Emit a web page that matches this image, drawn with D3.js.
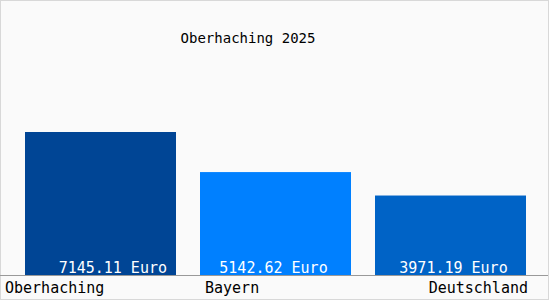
<!DOCTYPE html>
<html>
<head>
<meta charset="utf-8">
<script src="https://cdn.jsdelivr.net/npm/d3@7"></script>
<style>
  body { margin: 0; background: #fff; }
  svg { display: block; font-family: "DejaVu Sans Mono", monospace; }
</style>
</head>
<body>
<div id="chart"></div>
<script>
var w = 550;
var h = 300;

var categories = ['Oberhaching', 'Bayern', 'Deutschland'];
var values = [7145.11, 5142.62, 3971.19];
var unit = 'Euro';
var title = 'Oberhaching 2025';

var colors = ['#004595', '#0080ff', '#0063c6'];
// label placement per category: anchor + offset from bar
var labelPos = [
  {anchor: 'start', side: 'left', dx: -20},
  {anchor: 'start', side: 'left', dx: 5},
  {anchor: 'end', side: 'right', dx: 2}
];
var valuePos = [
  {anchor: 'end', side: 'right', dx: -9},
  {anchor: 'middle', side: 'mid', dx: -2},
  {anchor: 'middle', side: 'mid', dx: 3}
];

var baseY = 275;

var x = d3.scaleBand()
  .domain(categories)
  .range([13, 538])
  .paddingInner(24 / 175)
  .paddingOuter(12 / 175);

var y = d3.scaleLinear()
  .domain([0, d3.max(values)])
  .range([baseY, 132]);

var svg = d3.select('#chart')
  .append('svg')
    .attr('width', w)
    .attr('height', h);

svg.append('rect')
  .attr('x', 0.5).attr('y', 0.5)
  .attr('width', w - 2).attr('height', h - 1)
  .style('fill', '#fafafa')
  .style('stroke', '#d8d8d8');

svg.append('text')
  .attr('x', 248)
  .attr('y', 43)
  .attr('text-anchor', 'middle')
  .style('font-size', '14px')
  .style('fill', '#000')
  .text(title);

var data = categories.map(function(c, i) { return {cat: c, val: values[i], i: i}; });

function sideX(d, p) {
  if (p.side === 'left') return x(d.cat) + p.dx;
  if (p.side === 'right') return x(d.cat) + x.bandwidth() + p.dx;
  return x(d.cat) + x.bandwidth() / 2 + p.dx;
}

var bar = svg.selectAll('.bar')
  .data(data)
  .enter().append('g')
    .attr('class', 'bar');

bar.append('rect')
  .attr('x', function(d) { return x(d.cat); })
  .attr('y', function(d) { return y(d.val); })
  .attr('width', x.bandwidth())
  .attr('height', function(d) { return baseY - y(d.val); })
  .style('fill', function(d) { return colors[d.i]; });

bar.append('text')
  .attr('x', function(d) { return sideX(d, valuePos[d.i]); })
  .attr('y', baseY - 2)
  .attr('text-anchor', function(d) { return valuePos[d.i].anchor; })
  .style('font-size', '15px')
  .style('fill', '#fff')
  .text(function(d) { return d3.format('.2f')(d.val) + ' ' + unit; });

// baseline
svg.append('line')
  .attr('x1', 0).attr('x2', w - 2)
  .attr('y1', baseY + 0.5).attr('y2', baseY + 0.5)
  .style('stroke', '#999');

bar.append('text')
  .attr('x', function(d) { return sideX(d, labelPos[d.i]); })
  .attr('y', 293)
  .attr('text-anchor', function(d) { return labelPos[d.i].anchor; })
  .style('font-size', '15px')
  .style('fill', '#000')
  .text(function(d) { return d.cat; });
</script>
</body>
</html>
